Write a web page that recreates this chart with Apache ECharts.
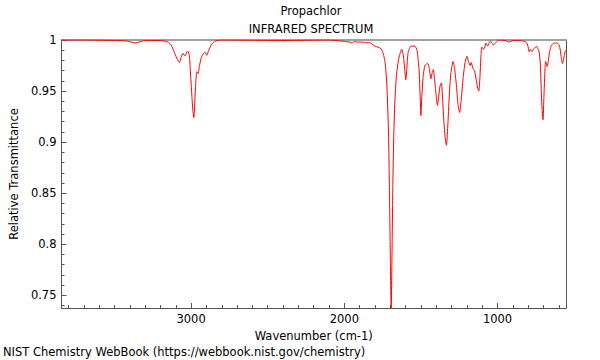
<!DOCTYPE html>
<html><head><meta charset="utf-8">
<script src="https://cdn.jsdelivr.net/npm/echarts@6/dist/echarts.min.js"></script>
<style>html,body{margin:0;padding:0;background:#fff}#c{width:600px;height:360px}</style>
</head><body><div id="c"></div>
<script>
const chartTitle = 'Propachlor';
const chartSubtitle = 'INFRARED SPECTRUM';
const footer = 'NIST Chemistry WebBook (https://webbook.nist.gov/chemistry)';
const xName = 'Wavenumber (cm-1)';
const yName = 'Relative Transmittance';
const xMajorTicks = [1000, 2000, 3000];
const xMinorTicks = [600,700,800,900,1100,1200,1300,1400,1500,1600,1700,1800,1900,2100,2200,2300,2400,2500,2600,2700,2800,2900,3100,3200,3300,3400,3500,3600,3700,3800];
const yMajorTicks = [0.75, 0.8, 0.85, 0.9, 0.95, 1];
const yMinorTicks = [0.74,0.76,0.77,0.78,0.79,0.81,0.82,0.83,0.84,0.86,0.87,0.88,0.89,0.91,0.92,0.93,0.94,0.96,0.97,0.98,0.99];
const xMin = 553, xMax = 3846, yMin = 0.7376, yMax = 1;

const wavenumber = [3846,3700,3500,3420,3380,3361,3340,3300,3200,3150,3130,3110,3090,3076,3065,3053,3045,3037,3030,3021,3012,3005,2995,2988,2982,2976,2968,2962,2955,2945,2935,2924,2910,2898,2885,2865,2840,2800,2400,2100,1990,1965,1949,1935,1915,1890,1860,1830,1819,1800,1780,1765,1754,1743,1733,1722,1712,1705,1700,1694,1688,1683,1678,1670,1660,1650,1640,1625,1615,1606,1599,1592,1583,1565,1540,1525,1512,1505,1500,1494,1485,1474,1455,1445,1435,1428,1419,1410,1400,1392,1384,1375,1366,1358,1348,1340,1333,1325,1315,1305,1290,1280,1268,1258,1247,1238,1225,1212,1199,1190,1178,1172,1160,1150,1140,1130,1122,1115,1108,1102,1092,1085,1075,1065,1055,1047,1037,1027,1015,1000,988,950,924,900,850,820,808,800,794,785,776,765,753,744,735,728,720,712,703,697,690,686,675,668,660,650,632,610,598,590,583,576,570,563,558,553];
const transmittance = [1.0,1.0,0.9995,0.999,0.9975,0.997,0.998,0.9995,0.9995,0.998,0.995,0.988,0.981,0.978,0.983,0.987,0.985,0.9845,0.988,0.989,0.985,0.97,0.945,0.93,0.924,0.94,0.962,0.969,0.967,0.975,0.982,0.986,0.988,0.985,0.99,0.996,0.999,1.0,0.9995,1.0,0.9985,0.998,0.997,0.9985,0.998,0.998,0.9975,0.997,0.996,0.994,0.993,0.992,0.990,0.985,0.977,0.955,0.91,0.85,0.79,0.7376,0.80,0.86,0.902,0.94,0.965,0.977,0.985,0.991,0.985,0.972,0.961,0.972,0.988,0.994,0.994,0.99,0.97,0.945,0.926,0.945,0.965,0.975,0.977,0.972,0.962,0.967,0.971,0.96,0.945,0.936,0.945,0.955,0.958,0.94,0.915,0.902,0.897,0.915,0.945,0.967,0.979,0.972,0.955,0.937,0.929,0.94,0.962,0.978,0.984,0.979,0.975,0.978,0.972,0.970,0.962,0.953,0.950,0.963,0.985,0.993,0.991,0.992,0.997,0.994,0.997,0.999,0.997,0.995,0.997,0.999,1.0,0.9995,0.998,0.9995,0.9995,0.9985,0.997,0.993,0.9885,0.991,0.9885,0.991,0.993,0.9935,0.991,0.988,0.975,0.94,0.922,0.945,0.972,0.979,0.974,0.98,0.9885,0.994,0.997,0.997,0.995,0.99,0.982,0.977,0.98,0.986,0.9885,0.99];

const points = wavenumber.map((w, i) => [w, transmittance[i]]);
const font = 'DejaVu Sans';
const fs = 11.5;
const txt = {fontFamily: font, fontSize: fs, color: '#000', fontWeight: 'normal'};
const plain = v => String(v);

const chart = echarts.init(document.getElementById('c'), null, {renderer: 'svg'});
chart.setOption({
  animation: false,
  backgroundColor: '#fff',
  title: [
    {text: chartTitle, left: 311, top: 5, padding: 0, textAlign: 'center', textStyle: txt},
    {text: chartSubtitle, left: 311, top: 23, padding: 0, textAlign: 'center', textStyle: txt},
    {text: footer, left: 3, top: 346, padding: 0, textStyle: txt}
  ],
  grid: {left: 57, right: 34, top: 40, bottom: 52, containLabel: false},
  xAxis: [
    {type: 'value', position: 'bottom', inverse: true, min: xMin, max: xMax,
     name: xName, nameLocation: 'middle', nameGap: 18, nameTextStyle: txt,
     axisLine: {show: true, lineStyle: {color: '#555', width: 1}},
     axisTick: {show: true, inside: true, length: 5, customValues: xMajorTicks, lineStyle: {color: '#555'}},
     axisLabel: {show: true, customValues: xMajorTicks, margin: 5, fontFamily: font, fontSize: fs, color: '#000', formatter: plain},
     splitLine: {show: false}},
    {type: 'value', position: 'bottom', inverse: true, min: xMin, max: xMax,
     axisLine: {show: false},
     axisTick: {show: true, inside: true, length: 3, customValues: xMinorTicks, lineStyle: {color: '#555'}},
     axisLabel: {show: false}, splitLine: {show: false}},
    {type: 'value', position: 'top', inverse: true, min: xMin, max: xMax,
     axisLine: {show: true, lineStyle: {color: '#a0a0a0', width: 2}},
     axisTick: {show: false}, axisLabel: {show: false}, splitLine: {show: false}}
  ],
  yAxis: [
    {type: 'value', position: 'left', min: yMin, max: yMax,
     name: yName, nameLocation: 'middle', nameGap: 41, nameTextStyle: txt,
     axisLine: {show: true, lineStyle: {color: '#555', width: 1}},
     axisTick: {show: true, inside: true, length: 5, customValues: yMajorTicks, lineStyle: {color: '#555'}},
     axisLabel: {show: true, customValues: yMajorTicks, margin: 5, fontFamily: font, fontSize: fs, color: '#000', formatter: plain},
     splitLine: {show: false}},
    {type: 'value', position: 'left', min: yMin, max: yMax,
     axisLine: {show: false},
     axisTick: {show: true, inside: true, length: 3, customValues: yMinorTicks, lineStyle: {color: '#555'}},
     axisLabel: {show: false}, splitLine: {show: false}},
    {type: 'value', position: 'right', min: yMin, max: yMax,
     axisLine: {show: true, lineStyle: {color: '#555', width: 1}},
     axisTick: {show: false}, axisLabel: {show: false}, splitLine: {show: false}}
  ],
  series: [{
    type: 'line', xAxisIndex: 0, yAxisIndex: 0, data: points,
    showSymbol: false, symbol: 'none', smooth: 0.2,
    lineStyle: {color: '#ff0000', width: 1}, clip: true
  }]
});
</script></body></html>
